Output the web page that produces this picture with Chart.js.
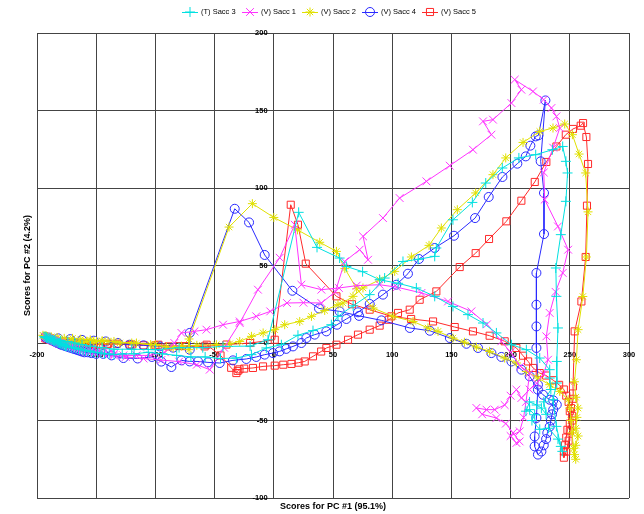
<!DOCTYPE html>
<html>
<head>
<meta charset="utf-8">
<script src="https://cdn.jsdelivr.net/npm/chart.js@4/dist/chart.umd.min.js"></script>
<style>
html,body{margin:0;padding:0;background:#fff;}
#wrap{width:644px;height:514px;position:relative;}
</style>
</head>
<body>
<div id="wrap"><canvas id="c" width="644" height="514"></canvas></div>
<script>
const seriesNames = ['(T) Sacc 3', '(V) Sacc 1', '(V) Sacc 2', '(V) Sacc 4', '(V) Sacc 5'];
const xTicks = [-200, -150, -100, -50, 0, 50, 100, 150, 200, 250, 300];
const yTicks = [-100, -50, 0, 50, 100, 150, 200];
const xTitle = 'Scores for PC #1 (95.1%)';
const yTitle = 'Scores for PC #2 (4.2%)';

const sacc3 = [[-194,4],[-193,4],[-192,3.5],[-191,3],[-190,3],[-189,2.5],[-188,2],[-187,2],[-186,1.5],[-185,1],[-184,1],[-183,0.5],[-182,0],[-181,0],[-180,-0.5],[-179,-1],[-178,-1],[-177,-1.5],[-176,-2],[-175,-2],[-173,-2.5],[-171,-3],[-169,-3],[-167,-3.5],[-165,-4],[-163,-4],[-161,-4.5],[-159,-5],[-157,-5],[-155,-5.5],[-152,-6],[-149,-6],[-146,-6.5],[-143,-7],[-139,-7],[-135,-7.5],[-128,-7],[-118,-7],[-106,-6],[-94,-7],[-82,-8],[-70,-9],[-58,-9],[-45,-10],[-31.6,-9.7],[-18.9,-7.5],[-6.3,-3.2],[6.4,-1.1],[20.4,5],[33.1,8],[48.6,11.8],[54.2,17.2],[67,24],[81,31.2],[93.6,41.9],[109.1,52.6],[122,54],[135.9,55.9],[137.3,61.3],[151.3,79.5],[167.7,90.7],[179,103.2],[193,112.9],[207,119.4],[221.2,121.5],[235.3,124.7],[244,126.8],[246.7,117.2],[248.1,109.7],[246.7,91.4],[242.4,69.9],[238.2,48.4],[238.7,30.1],[240,9.7],[239,-11.9],[239,-25.8],[235.8,-36.6],[238.7,-53.8],[242.4,-66.7],[243.7,-69.9],[240,-62],[232,-55],[224.6,-55.7],[218,-50],[220.3,-46.3],[216.1,-43],[213,-44],[216,-38],[222,-40],[226,-42],[230,-46],[228,-38],[234,-30],[233,-22.6],[233,-17.2],[224.6,-9.7],[213.3,-4.3],[200.7,-1.1],[188,6.5],[176.7,12.9],[164,18.3],[151.3,23.6],[135.9,30.1],[120.4,35.5],[105,38.5],[89.4,40.8],[75,46],[61.3,49.4],[55.6,54.8],[36.5,61.7],[21,84.3],[-4.9,2.1],[-20,-2],[-42.9,-2.2],[-60,-3],[-80,-3],[-100,-4.3],[-120,-4],[-135,-4],[-145,-3],[-155,-2],[-162,-1],[-168,0],[-174,1],[-180,1.5],[-185,2],[-189,3],[-192,3.5]];

const sacc1 = [[-193,4],[-192,3.5],[-191,3],[-190,3],[-189,2.5],[-188,2],[-187,2],[-186,1.5],[-185,1],[-184,1],[-183,0.5],[-182,0],[-181,0],[-180,-0.5],[-178,-1],[-176,-1.5],[-174,-2],[-172,-2.5],[-170,-3],[-168,-3],[-166,-3.5],[-164,-4],[-161,-4.5],[-158,-5],[-155,-5.5],[-152,-6],[-148,-6],[-144,-6.5],[-140,-7],[-135,-7],[-127,-8],[-116,-8],[-104,-8],[-92,-6],[-84,0],[-78,6.5],[-67,7.5],[-56.9,8.6],[-42.9,11.8],[-28.8,13.9],[-14.8,17.2],[-3,20.4],[11.1,25.8],[25,26],[40.2,25.8],[52,33],[59.9,52.6],[72.5,60.2],[79.6,53.7],[75.4,68.8],[92.2,80.6],[106.3,93.5],[128.9,104.3],[148.6,114.4],[168.2,124.7],[183.8,134.4],[176.7,143],[185.1,144.1],[200.7,154.8],[209.1,163.4],[203.5,169.9],[218.9,162.3],[228,157],[234.5,151.6],[238.7,146.2],[241.5,138.7],[236,126],[228,110],[228.8,92.5],[240,75.2],[248.6,60.2],[244,45.2],[238,33],[233,19.4],[230.2,4.3],[231.6,-10.8],[228,-20],[222,-26],[216,-30],[209.1,-35.5],[204.9,-30.1],[200,-34],[195,-40],[186.6,-43],[179.6,-43],[171.1,-41.9],[176,-46],[188,-48.4],[196,-52],[202,-58],[207.6,-63.5],[204.9,-64.5],[200,-60],[207.7,-57],[211,-48],[213,-38],[216.1,-19.4],[208.4,-15.1],[200,-6],[192.2,1.1],[180,12],[166.9,20.4],[147.1,26.8],[124.7,32.3],[104,36],[89.4,37.6],[70,37],[55,35.5],[40.2,34.4],[23.3,37.6],[17.7,76.3],[5,55],[-13.4,34.4],[-28.8,12.9],[-42,-3],[-54.1,-17.2],[-65,-14],[-80,-12],[-95,-11],[-110,-10],[-125,-9],[-135,-8],[-145,-6],[-155,-5],[-162,-4],[-168,-3],[-174,-1],[-180,0],[-185,1.5],[-189,2.5]];

const sacc2 = [[-195,5],[-194,4.5],[-193,4.5],[-192,4],[-191,4],[-190,3.5],[-189,3],[-188,3],[-187,3],[-186,2.5],[-185,2.5],[-184,2],[-182,2],[-180,1.5],[-178,1],[-176,1],[-174,0.5],[-172,0.5],[-170,0],[-167,0],[-164,0],[-161,0.5],[-158,1],[-155,1],[-152,1],[-149.8,1],[-145,1],[-140,1],[-130,0],[-116,0],[-104,-1],[-90.7,-2.6],[-78,-2],[-65,-1.5],[-48.5,-1.1],[-37.2,-0.5],[-28.8,1],[-18.9,4.3],[-9,6.5],[0.8,8.6],[9.2,11.8],[21.9,13.9],[31.8,17.2],[43,21],[54.2,24.7],[58.4,25.8],[66.9,30.1],[75.3,35.5],[89.4,40.8],[102.1,46.2],[116.2,55.5],[131.1,63],[141.5,74.2],[155,86],[170.5,96.8],[185.1,108.6],[195.9,119.4],[210.5,129.4],[224.6,136.5],[235.8,138.7],[245.7,141.3],[252.2,134.4],[257.8,121.9],[263.4,109.7],[265.4,84.6],[264,55.5],[261,30],[257,8.6],[255.6,-10.8],[254,-25],[255,-35],[257,-42],[256,-48],[255,-55],[257,-60],[255,-66],[254,-72],[255,-75],[253,-68],[252,-58],[251,-50],[250,-42],[248.6,-36.6],[241.5,-31.2],[233,-26.9],[223.1,-22.6],[213.3,-18.3],[204.9,-12.9],[195,-9.7],[182.3,-5.4],[171.1,-2.6],[161,0.5],[151.3,3.2],[138.7,7.5],[130.2,9.7],[117.6,13.9],[100.7,17.2],[83.8,22.6],[70,35],[60,48],[52.9,59.1],[38.8,65],[20,73],[0,81],[-18.1,89.9],[-37.8,74.8],[-71.6,2.6],[-71.6,-4.3],[-85,-3],[-100,-1],[-120,0],[-135,1],[-145,1.5],[-155,2],[-163,2.5],[-170,3],[-177,3],[-183,3.5],[-188,4],[-192,4.5]];

const sacc4 = [[-193,4],[-192,3.5],[-191,3],[-190,3],[-189,2.5],[-188,2],[-187,2],[-186,1.5],[-185,1],[-184,0.5],[-183,0],[-182,0],[-181,-0.5],[-180,-1],[-178,-1.5],[-176,-2],[-174,-2.5],[-172,-3],[-170,-3.5],[-168,-4],[-166,-4.5],[-164,-5],[-162,-5.5],[-160,-6],[-157,-6],[-154,-6.5],[-150,-7],[-144,-7],[-137,-8],[-127,-9.7],[-115,-10],[-103,-9],[-95,-12],[-86.5,-15.5],[-78,-11.2],[-71,-11.9],[-64,-11.9],[-55.6,-12.5],[-45.7,-12.9],[-34.5,-11.2],[-23.2,-10.3],[-14.8,-9],[-7.7,-7.5],[-0.7,-6.5],[4.9,-5.4],[10.5,-3.8],[16.2,-2.2],[23.3,0],[27.5,3.2],[34.5,5.4],[44.4,7.5],[53.4,11.8],[61.3,15.5],[71.1,19.8],[81,25.2],[92.2,31.2],[103.5,37.6],[113.3,44.7],[122.6,54.2],[135.9,61.3],[152.2,69.2],[170,80.6],[181.5,94.2],[193.1,107.1],[205.7,115.7],[212.8,120.4],[216.7,127.3],[221.2,133.3],[223.5,134],[229.4,156.5],[225.4,117.2],[228.2,96.8],[228.2,70.3],[221.8,45.2],[221.8,24.7],[221.8,10.7],[221.8,-3.2],[223.1,-26.9],[221.8,-48.4],[220.3,-60.3],[220.3,-66.7],[223.1,-72],[226,-70],[228,-66],[230,-62],[231,-58],[233,-54],[234,-50],[235,-46],[236,-43],[239,-39.8],[236,-37],[233,-36.6],[227.4,-33.4],[223.1,-30.1],[216.1,-21.5],[209.1,-17.2],[200.7,-11.9],[192.2,-9],[183.8,-6.5],[172.5,-3.2],[162.7,-0.5],[148.7,3.2],[131.8,7.9],[114.9,9.7],[90.9,14.6],[72,17.5],[55.6,20.4],[38.2,22.3],[15.7,33.7],[-7.7,56.8],[-20.9,77.8],[-33,86.6],[-71,6.5],[-71,-4.3],[-85,-3],[-96.4,-2.2],[-110,-1.5],[-121.7,-1.1],[-131.6,0],[-141.9,1],[-152,1.5],[-162,2],[-172,2.5],[-182,3],[-190,3.5]];

const sacc5 = [[-193,3],[-192,3],[-191,2.5],[-190,2.5],[-189,2],[-188,2],[-187,1.5],[-186,1.5],[-185,1],[-183,1],[-181,0.5],[-179,0],[-177,0],[-175,-0.5],[-172,-1],[-169,-1],[-166,-1],[-163,-1],[-160,-1],[-157,-1],[-153,-1],[-150,-1],[-146,-1],[-141,-1],[-132.7,-0.5],[-121.7,-1.1],[-110,-1.5],[-97.5,-1.1],[-89,-2.2],[-75,-2],[-56.7,-1.1],[-45,-8],[-36,-16],[-31.6,-19.4],[-30.5,-18],[-29,-17],[-25,-16.5],[-17.6,-16.1],[-9.1,-15.1],[0.8,-14.6],[8,-14],[14.9,-13.5],[21,-12.7],[26.1,-11.9],[33.1,-8.6],[40,-5.5],[44.4,-3.2],[52.9,-1.1],[62.7,2.1],[71.1,5.4],[81,8.6],[89.4,11.2],[97,15],[104.9,19.4],[114.8,21.5],[123.2,27.9],[137.3,33.3],[157,49],[170.5,58],[181.8,67.1],[196.4,78.5],[209.1,91.8],[220.4,103.9],[230.2,116.8],[238.7,126.8],[246.6,134.4],[252.7,138.1],[259.2,140.2],[261.2,141.9],[264,132.9],[265.4,115.5],[264.5,88.6],[263.4,55.5],[259.8,26.8],[254.1,7.5],[252.7,-28],[253,-36],[251,-42],[252,-47],[250,-52],[248,-56],[247,-61],[246,-66],[245,-70],[245,-74],[247,-70],[249,-63],[250,-57],[252,-50],[250,-44],[249,-38],[247,-34],[245,-30],[241,-27],[236,-24],[230,-21],[224.6,-19.4],[219,-16.1],[214.8,-11.9],[210.5,-8.2],[204.9,-3.2],[195,1.1],[182.3,4.7],[168.2,7.5],[152.8,10.3],[134.5,13.9],[116,15.5],[99.3,17.2],[81,21.5],[66,25],[52.9,30.1],[27,51.2],[20.4,76.3],[14.3,89.2],[0.8,2.1],[-20,0],[-40,-1],[-58.4,-2.2],[-80,-2],[-100,-1.5],[-120,-1],[-140,-0.5],[-160,0],[-175,1],[-186,2]];

const seriesData = [sacc3, sacc1, sacc2, sacc4, sacc5];
const seriesColors = ['#00e0e0', '#ff33ff', '#e0e000', '#2a2aff', '#ff2a2a'];
const seriesStyles = ['cross', 'crossRot', 'star', 'circle', 'rect'];
const seriesRadius = [5, 5.5, 4.5, 4.5, 5];

const datasets = seriesData.map((pts, i) => ({
  label: seriesNames[i],
  data: pts.map(p => ({x: p[0], y: p[1]})),
  showLine: true,
  borderColor: seriesColors[i],
  backgroundColor: 'rgba(0,0,0,0)',
  borderWidth: 1,
  pointStyle: seriesStyles[i],
  pointRadius: seriesRadius[i],
  pointBorderColor: seriesColors[i],
  pointBackgroundColor: 'rgba(0,0,0,0)',
  pointBorderWidth: 1,
  tension: 0
}));

const FONT = '"Liberation Sans", Arial, sans-serif';

const overlay = {
  id: 'overlay',
  afterDraw(chart) {
    const c = chart.ctx, a = chart.chartArea;
    c.save();
    c.fillStyle = '#000';
    c.font = 'bold 9px ' + FONT;
    c.textAlign = 'center';
    c.textBaseline = 'middle';
    c.fillText(xTitle, (a.left + a.right) / 2, 507);
    c.translate(28, (a.top + a.bottom) / 2);
    c.rotate(-Math.PI / 2);
    c.fillText(yTitle, 0, 0);
    c.restore();
    // legend
    c.save();
    for (let i = 0; i < seriesNames.length; i++) {
      const cx = 190 + 60 * i, cy = 12;
      c.strokeStyle = seriesColors[i];
      c.fillStyle = 'rgba(0,0,0,0)';
      c.lineWidth = 1;
      c.beginPath();
      c.moveTo(cx - 8, cy + 0.5);
      c.lineTo(cx + 8, cy + 0.5);
      c.stroke();
      if (Chart.helpers && Chart.helpers.drawPoint) {
        Chart.helpers.drawPoint(c, {pointStyle: seriesStyles[i], radius: seriesRadius[i], borderWidth: 1, rotation: 0}, cx, cy);
      }
      c.fillStyle = '#000';
      c.font = '7.5px ' + FONT;
      c.textAlign = 'left';
      c.textBaseline = 'middle';
      c.fillText(seriesNames[i], cx + 11, cy);
    }
    c.restore();
  }
};

new Chart(document.getElementById('c'), {
  type: 'scatter',
  data: {datasets},
  options: {
    responsive: false,
    animation: false,
    layout: {padding: {left: 37, right: 15, top: 33, bottom: 16}},
    plugins: {legend: {display: false}, tooltip: {enabled: false}},
    scales: {
      x: {
        type: 'linear', min: -200, max: 300, position: {y: 0},
        afterBuildTicks: s => { s.ticks = xTicks.map(v => ({value: v})); },
        ticks: {color: '#000', font: {size: 7.5, weight: 'bold', family: FONT}, padding: 7, maxRotation: 0, autoSkip: false},
        grid: {color: '#444', lineWidth: 1, drawTicks: false},
        border: {display: false}
      },
      y: {
        type: 'linear', min: -100, max: 200, position: {x: 0},
        afterBuildTicks: s => { s.ticks = yTicks.map(v => ({value: v})); },
        ticks: {color: '#000', font: {size: 7.5, weight: 'bold', family: FONT}, padding: 5, autoSkip: false,
          callback: v => v + '   '},
        grid: {color: '#444', lineWidth: 1, drawTicks: false},
        border: {display: false}
      }
    }
  },
  plugins: [overlay]
});
</script>
</body>
</html>
